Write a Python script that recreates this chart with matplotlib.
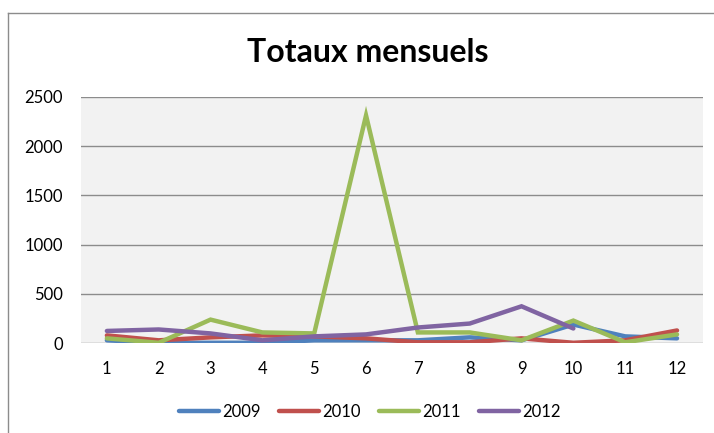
import matplotlib.pyplot as plt
from matplotlib.lines import Line2D

months = list(range(1, 13))
y2009 = [30, 5, 5, 5, 30, 30, 30, 60, 30, 190, 70, 50]
y2010 = [80, 30, 60, 80, 70, 50, 10, 10, 50, 5, 30, 130]
y2011 = [50, 5, 240, 110, 100, 2310, 110, 110, 30, 230, 10, 90]
y2012 = [125, 140, 100, 30, 70, 90, 160, 200, 375, 150]
series = [('2009', y2009, '#4F81BD'), ('2010', y2010, '#C0504D'),
          ('2011', y2011, '#9BBB59'), ('2012', y2012, '#8064A2')]

plt.rcParams['font.family'] = ['Lato', 'DejaVu Sans']

fig = plt.figure(figsize=(7.14, 4.33), dpi=100)
ax = fig.add_axes([0.1134, 0.2072, 0.8711, 0.5695])
ax.set_facecolor('#F2F2F2')

for name, vals, col in series:
    ax.plot(months[:len(vals)], vals, color=col, lw=3.2, label=name,
            solid_capstyle='round', solid_joinstyle='miter')

ax.set_xlim(0.5, 12.5)
ax.set_ylim(0, 2500)
ax.set_yticks([0, 500, 1000, 1500, 2000, 2500])
ax.set_xticks(months)
ax.grid(axis='y', color='#8C8C8C', lw=1)
ax.set_axisbelow(True)
for s in ax.spines.values():
    s.set_visible(False)
ax.tick_params(length=0, labelsize=12, colors='black')
ax.tick_params(axis='y', pad=13)
ax.tick_params(axis='x', pad=13)

fig.text(0.515, 1 - 62 / 433, 'Totaux mensuels', ha='center', va='baseline',
         fontsize=23, fontweight='bold')

fig.legend(loc='center', bbox_to_anchor=(0.518, 0.0485), ncol=4, frameon=False,
           fontsize=12, handlelength=2.4, columnspacing=1.1, handletextpad=0.2)

# chart frame
fig.add_artist(Line2D([8 / 714, 8 / 714], [0, 1 - 13 / 433], color='#8C8C8C', lw=1))
fig.add_artist(Line2D([8 / 714, 1], [1 - 13 / 433, 1 - 13 / 433], color='#8C8C8C', lw=1))

fig.savefig('out.png', dpi=100)
